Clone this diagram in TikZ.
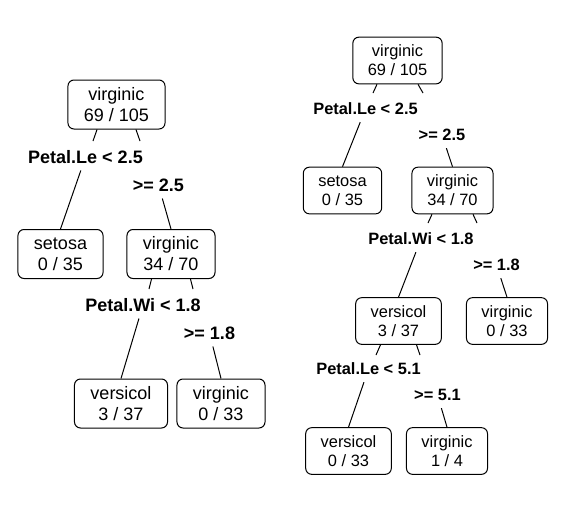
\documentclass[tikz,border=0pt]{standalone}
\usepackage{fontspec}
\setmainfont{Liberation Sans}

\tikzset{every picture/.style={line width=0.75pt}}
\tikzset{
  lbox/.style={draw, rounded corners=4.5pt, align=center, inner xsep=12pt, inner ysep=0pt, minimum height=36.75pt, font=\fontsize{13.5}{15.75}\selectfont},
  rbox/.style={draw, rounded corners=4.5pt, align=center, inner xsep=11.25pt, inner ysep=0pt, minimum height=35pt, font=\fontsize{12.3}{14.25}\selectfont},
  lcut/.style={inner xsep=1pt, inner ysep=0pt, minimum height=19.5pt, font=\bfseries\fontsize{13.5}{16}\selectfont},
  rcut/.style={inner xsep=1pt, inner ysep=0pt, minimum height=19pt, font=\bfseries\fontsize{12.3}{14.5}\selectfont}
}

\begin{document}
\begin{tikzpicture}[x=0.75pt,y=0.75pt,yscale=-1,xscale=1]
\useasboundingbox (0,0) rectangle (568,511);

%% left tree
% Boxes
\node [lbox] (lroot) at (116.5,104.5) {virginic\\69 / 105};
\node [lbox] (lset) at (60.5,254) {setosa\\0 / 35};
\node [lbox] (lvir) at (171,254) {virginic\\34 / 70};
\node [lbox] (lvers) at (121,403.5) {versicol\\3 / 37};
\node [lbox] (lvirb) at (221,403.5) {virginic\\0 / 33};
% Split labels
\node [lcut] (lcutA) at (85.5,157) {Petal.Le < 2.5};
\node [lcut] (lcutB) at (158.5,185) {>= 2.5};
\node [lcut] (lcutC) at (143,305) {Petal.Wi < 1.8};
\node [lcut] (lcutD) at (209.5,333) {>= 1.8};
% Stub ends
\coordinate (lrootL) at (93,141);
\coordinate (lrootR) at (140,141);
\coordinate (lvirL) at (149,289);
\coordinate (lvirR) at (193,289);
% Branches
\draw ([xshift=-14.6pt]lroot.south) -- (lrootL);
\draw ([xshift=14.6pt]lroot.south) -- (lrootR);
\draw (lcutA) -- (lset.north);
\draw (lcutB) -- (lvir.north);
\draw ([xshift=-14.6pt]lvir.south) -- (lvirL);
\draw ([xshift=14.6pt]lvir.south) -- (lvirR);
\draw (lcutC) -- (lvers.north);
\draw (lcutD) -- (lvirb.north);

%% right tree
% Boxes
\node [rbox] (rroot) at (397.5,60.5) {virginic\\69 / 105};
\node [rbox] (rset) at (342.5,190.5) {setosa\\0 / 35};
\node [rbox] (rvir) at (452.5,190.5) {virginic\\34 / 70};
\node [rbox] (rvers) at (398.5,321) {versicol\\3 / 37};
\node [rbox] (rvirb) at (507,321) {virginic\\0 / 33};
\node [rbox] (rvers2) at (348.5,451) {versicol\\0 / 33};
\node [rbox] (rvir2) at (447,451) {virginic\\1 / 4};
% Split labels
\node [rcut] (rcutA) at (365.5,109) {Petal.Le < 2.5};
\node [rcut] (rcutB) at (442,135) {>= 2.5};
\node [rcut] (rcutC) at (421,239) {Petal.Wi < 1.8};
\node [rcut] (rcutD) at (496.5,265) {>= 1.8};
\node [rcut] (rcutE) at (368.5,369) {Petal.Le < 5.1};
\node [rcut] (rcutF) at (437.5,395) {>= 5.1};
% Stub ends
\coordinate (rrootL) at (373,93);
\coordinate (rrootR) at (423,93);
\coordinate (rvirL) at (428,223);
\coordinate (rvirR) at (477,223);
\coordinate (rversL) at (376,355);
\coordinate (rversR) at (420,355);
% Branches
\draw ([xshift=-15.4pt]rroot.south) -- (rrootL);
\draw ([xshift=15.4pt]rroot.south) -- (rrootR);
\draw (rcutA) -- (rset.north);
\draw (rcutB) -- (rvir.north);
\draw ([xshift=-15.4pt]rvir.south) -- (rvirL);
\draw ([xshift=15.4pt]rvir.south) -- (rvirR);
\draw (rcutC) -- (rvers.north);
\draw (rcutD) -- (rvirb.north);
\draw ([xshift=-13.5pt]rvers.south) -- (rversL);
\draw ([xshift=13.5pt]rvers.south) -- (rversR);
\draw (rcutE) -- (rvers2.north);
\draw (rcutF) -- (rvir2.north);

\end{tikzpicture}
\end{document}
